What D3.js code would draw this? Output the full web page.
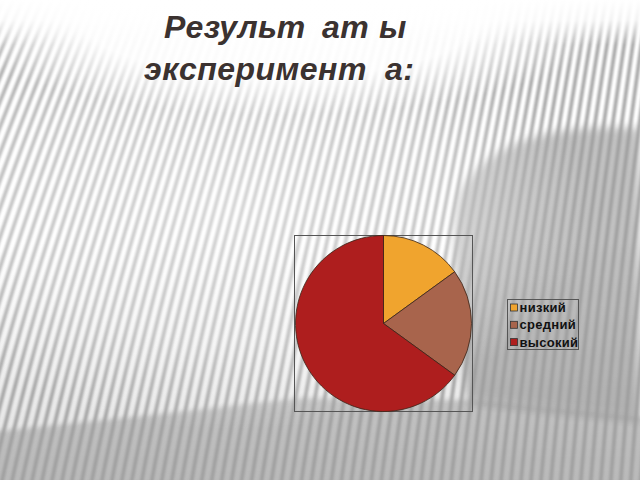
<!DOCTYPE html>
<html><head><meta charset="utf-8">
<script src="https://cdn.jsdelivr.net/npm/d3@7"></script>
<style>html,body{margin:0;padding:0;overflow:hidden;background:#fff}</style>
</head><body>
<script>
// title is split in the source slide with visible gaps after "т"
const titleLines = [["Результ", "ат", "ы"], ["эксперимент", "а:"]];
const categories = ["низкий", "средний", "высокий"];
const values = [15, 20, 65];
const colors = ["#F0A42E", "#A8644C", "#AE1E1E"];

const W = 640, H = 480;
const svg = d3.select("body").append("svg").attr("width", W).attr("height", H);
const defs = svg.append("defs");
const blur = (id, s) => defs.append("filter").attr("id", id)
  .attr("x","-20%").attr("y","-20%").attr("width","140%").attr("height","140%")
  .append("feGaussianBlur").attr("stdDeviation", s);
blur("soft", 0.9); blur("b4", 5); blur("b2", 2.5);

// ---- background (decorative slide texture) ----
svg.append("rect").attr("width", W).attr("height", H).attr("fill", "#fff");

const shade = svg.append("g");
const lowGrad = defs.append("linearGradient").attr("id","low").attr("x1",0).attr("y1",0).attr("x2",0).attr("y2",1);
lowGrad.append("stop").attr("offset","0").attr("stop-color","#000").attr("stop-opacity",0);
lowGrad.append("stop").attr("offset","1").attr("stop-color","#000").attr("stop-opacity",0.12);
shade.append("rect").attr("x",0).attr("y",240).attr("width",W).attr("height",240).attr("fill","url(#low)");
shade.append("path")
  .attr("d","M640,128 C560,124 492,138 462,188 C450,212 452,300 468,402 L640,420 Z")
  .attr("fill","#000").attr("opacity",0.24).attr("filter","url(#b4)");
shade.append("path")
  .attr("d","M-10,432 L150,415 L300,398 L470,400 L650,418 L650,490 L-10,490 Z")
  .attr("fill","#000").attr("opacity",0.17).attr("filter","url(#b2)");

const slope = (x, y) => (0.45 - 0.3 * Math.max(0, Math.min(640, x)) / 640) * (1 - 0.5 * y / 480);
const starts = d3.range(-30, 75).map(i => i * 10);
const stripePts = x0 => {
  const pts = []; let x = x0;
  for (let y = H + 10; y >= -10; y -= 10) { pts.push([x, y]); x += slope(x, y) * 10; }
  return pts;
};
svg.append("g").attr("filter","url(#soft)").selectAll("path").data(starts).join("path")
  .attr("d", d => d3.line().curve(d3.curveBasis)(stripePts(d)))
  .attr("fill","none").attr("stroke","#9c9c9c").attr("stroke-opacity",0.85).attr("stroke-width",3.8);

const rg = (id, stops) => {
  const g = defs.append("radialGradient").attr("id", id);
  stops.forEach(([o, a]) => g.append("stop").attr("offset", o).attr("stop-color","#fff").attr("stop-opacity", a));
};
rg("glowTop", [[0,1],[0.6,0.92],[1,0]]);
rg("glowMid", [[0,0.5],[0.6,0.32],[1,0]]);
svg.append("ellipse").attr("cx",230).attr("cy",210).attr("rx",360).attr("ry",220).attr("fill","url(#glowMid)");
svg.append("ellipse").attr("cx",280).attr("cy",20).attr("rx",330).attr("ry",95).attr("fill","url(#glowTop)");
const topGrad = defs.append("linearGradient").attr("id","topw").attr("x1",0).attr("y1",0).attr("x2",0).attr("y2",1);
topGrad.append("stop").attr("offset","0").attr("stop-color","#fff").attr("stop-opacity",1);
topGrad.append("stop").attr("offset","0.45").attr("stop-color","#fff").attr("stop-opacity",0.85);
topGrad.append("stop").attr("offset","1").attr("stop-color","#fff").attr("stop-opacity",0);
svg.append("rect").attr("x",0).attr("y",0).attr("width",W).attr("height",45).attr("fill","url(#topw)");

// ---- title ----
const segX = [[164, 322, 379], [144, 385]];
const title = svg.append("g")
  .attr("font-family", "Liberation Sans, Arial, sans-serif")
  .attr("font-weight", "bold").attr("font-style", "italic")
  .attr("font-size", 32).attr("letter-spacing", 0.5).attr("fill", "#3b3230");
titleLines.forEach((segs, li) => {
  const t = title.append("text").attr("y", 38 + li * 42);
  t.selectAll("tspan").data(segs).join("tspan")
    .attr("x", (d, i) => segX[li][i])
    .text(d => d);
});

// ---- chart ----
const box = {x: 294, y: 235, w: 178, h: 176};
svg.append("rect").attr("x", box.x + 0.5).attr("y", box.y + 0.5).attr("width", box.w).attr("height", box.h)
  .attr("fill", "none").attr("stroke", "#555").attr("stroke-width", 1);

const cx = box.x + box.w / 2 + 0.5, cy = box.y + box.h / 2 + 0.5, r = 88;
const pie = d3.pie().sort(null).value(d => d)(values);
const arc = d3.arc().innerRadius(0).outerRadius(r);
svg.append("g").attr("transform", `translate(${cx},${cy})`)
  .selectAll("path").data(pie).join("path")
  .attr("d", arc).attr("fill", (d, i) => colors[i])
  .attr("stroke", "#3a2418").attr("stroke-width", 0.8);

// ---- legend ----
const lg = {x: 507.5, y: 299.5, w: 71, h: 50};
svg.append("rect").attr("x", lg.x).attr("y", lg.y).attr("width", lg.w).attr("height", lg.h)
  .attr("fill", "none").attr("stroke", "#555").attr("stroke-width", 1);
const items = svg.append("g").selectAll("g").data(categories).join("g")
  .attr("transform", (d, i) => `translate(${lg.x + 3},${lg.y + 8 + i * 17.3})`);
items.append("rect").attr("x", 0).attr("y", -3.5).attr("width", 7).attr("height", 7)
  .attr("fill", (d, i) => colors[i]).attr("stroke", "#333").attr("stroke-width", 0.8);
items.append("text").attr("x", 9).attr("y", 4.5)
  .attr("font-family", "Liberation Sans, Arial, sans-serif").attr("font-weight", "bold")
  .attr("font-size", 13).attr("letter-spacing", 0.3).attr("fill", "#111").text(d => d);
</script>
</body></html>
